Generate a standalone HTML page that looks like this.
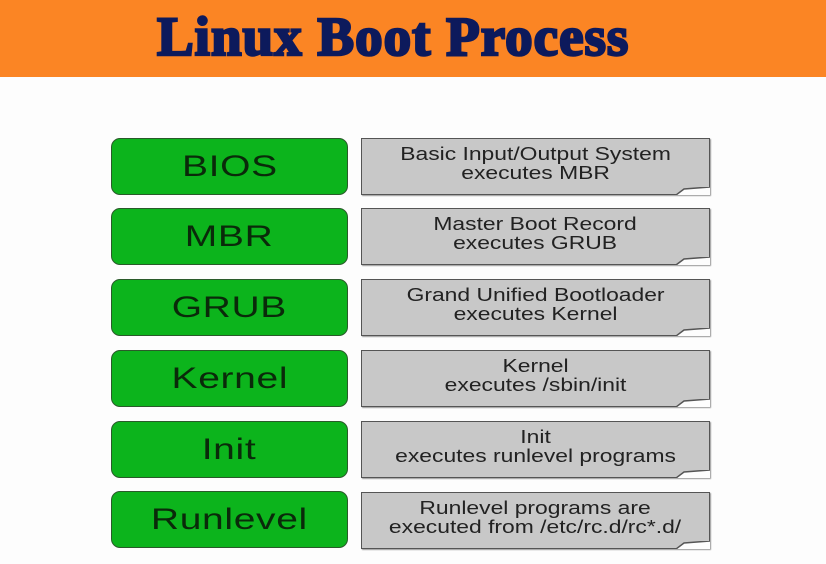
<!DOCTYPE html>
<html><head><meta charset="utf-8"><style>
body{margin:0;width:826px;height:564px;background:#fdfdfd;position:relative;overflow:hidden;font-family:"Liberation Sans",sans-serif}
.hdr{position:absolute;left:0;top:0;width:826px;height:77px;background:#fb8524}
.title{position:absolute;left:157px;top:5px;font-family:"Liberation Serif",serif;font-weight:bold;font-size:55px;color:#0d1a5c;letter-spacing:1px;-webkit-text-stroke:2.5px #0d1a5c;line-height:64px;white-space:nowrap}
.g{position:absolute;left:111px;width:235px;height:55px;background:#0cb41c;border:1.5px solid #2a5a2a;border-radius:9px;color:#0a2a0a;font-size:30px;display:flex;align-items:center;justify-content:center}
.g span{display:inline-block;transform:scaleX(1.3);letter-spacing:0.5px}
.d{position:absolute;left:361px;width:349px;background:#c8c8c8;border:1.5px solid #555;color:#222;font-size:18px;line-height:19px;text-align:center;display:flex;flex-direction:column;justify-content:center;align-items:center;padding-bottom:6px;box-sizing:border-box;height:57px;box-shadow:1px 1px 1px #999;white-space:nowrap}
.d span{display:inline-block;transform:scaleX(1.27)}
.d svg{position:absolute;right:-1px;bottom:-1px}
</style></head><body>
<div class="hdr"></div><div class="title">Linux Boot Process</div>

<div class="g" style="top:138px"><span>BIOS</span></div>
<div class="d" style="top:138px"><span>Basic Input/Output System<br>executes MBR</span><svg width="34" height="8"><path d="M0 8 L8 2 L34 0 L34 8Z" fill="#fdfdfd"/><path d="M0 8 L8 2 L34 0" fill="none" stroke="#555" stroke-width="1.5"/></svg></div>

<div class="g" style="top:208px"><span>MBR</span></div>
<div class="d" style="top:208px"><span>Master Boot Record<br>executes GRUB</span><svg width="34" height="8"><path d="M0 8 L8 2 L34 0 L34 8Z" fill="#fdfdfd"/><path d="M0 8 L8 2 L34 0" fill="none" stroke="#555" stroke-width="1.5"/></svg></div>

<div class="g" style="top:279px"><span>GRUB</span></div>
<div class="d" style="top:279px"><span>Grand Unified Bootloader<br>executes Kernel</span><svg width="34" height="8"><path d="M0 8 L8 2 L34 0 L34 8Z" fill="#fdfdfd"/><path d="M0 8 L8 2 L34 0" fill="none" stroke="#555" stroke-width="1.5"/></svg></div>

<div class="g" style="top:350px"><span>Kernel</span></div>
<div class="d" style="top:350px"><span>Kernel<br>executes /sbin/init</span><svg width="34" height="8"><path d="M0 8 L8 2 L34 0 L34 8Z" fill="#fdfdfd"/><path d="M0 8 L8 2 L34 0" fill="none" stroke="#555" stroke-width="1.5"/></svg></div>

<div class="g" style="top:421px"><span>Init</span></div>
<div class="d" style="top:421px"><span>Init<br>executes runlevel programs</span><svg width="34" height="8"><path d="M0 8 L8 2 L34 0 L34 8Z" fill="#fdfdfd"/><path d="M0 8 L8 2 L34 0" fill="none" stroke="#555" stroke-width="1.5"/></svg></div>

<div class="g" style="top:491px"><span>Runlevel</span></div>
<div class="d" style="top:492px"><span>Runlevel programs are<br>executed from /etc/rc.d/rc*.d/</span><svg width="34" height="8"><path d="M0 8 L8 2 L34 0 L34 8Z" fill="#fdfdfd"/><path d="M0 8 L8 2 L34 0" fill="none" stroke="#555" stroke-width="1.5"/></svg></div>
</body></html>
